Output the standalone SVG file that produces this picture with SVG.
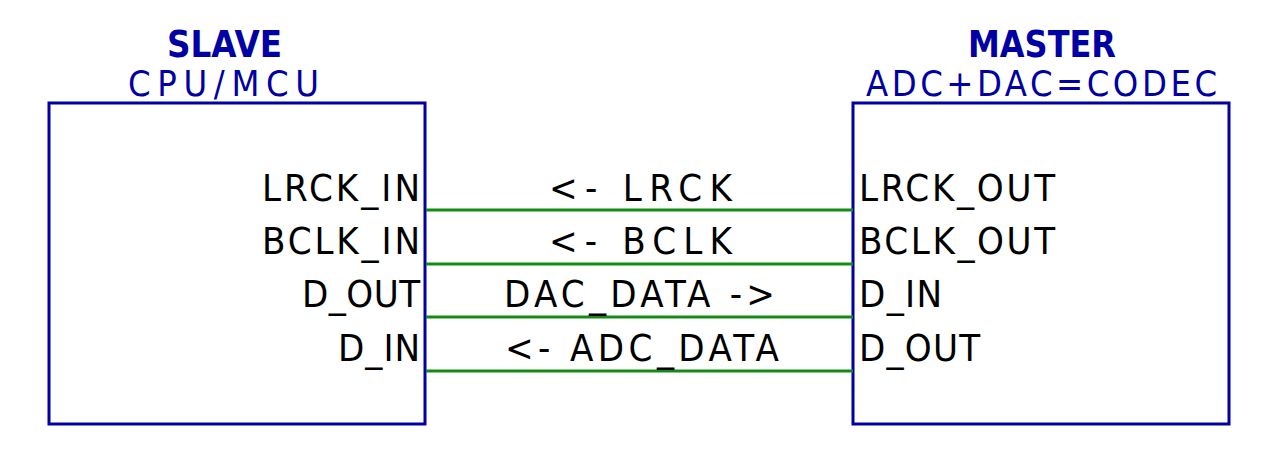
<svg xmlns="http://www.w3.org/2000/svg" width="1279" height="475" viewBox="0 0 1279 475">
<style>
.box{fill:none;stroke:#0000a4;stroke-width:3}
.wire{stroke:#148c14;stroke-width:3;fill:none}
.lbl{font-family:"DejaVu Sans Condensed","DejaVu Sans",sans-serif;font-size:38px;fill:#000}
.title{font-family:"DejaVu Sans",sans-serif;font-size:38px;font-weight:bold;fill:#0000a4}
.sub{font-family:"DejaVu Sans Condensed","DejaVu Sans",sans-serif;font-size:36px;fill:#0000a4}
</style>
<rect width="1279" height="475" fill="#fff"/>
<g id="slave">
<rect class="box" x="49" y="103" width="376" height="321"/>
<text class="title" x="167" y="57" textLength="115" lengthAdjust="spacingAndGlyphs">SLAVE</text>
<text class="sub" x="128" y="96" textLength="191" lengthAdjust="spacing">CPU/MCU</text>
<text class="lbl" x="262" y="201" textLength="158" lengthAdjust="spacing">LRCK_IN</text>
<text class="lbl" x="262" y="254" textLength="158" lengthAdjust="spacing">BCLK_IN</text>
<text class="lbl" x="302" y="307" textLength="118" lengthAdjust="spacing">D_OUT</text>
<text class="lbl" x="338" y="361" textLength="82" lengthAdjust="spacing">D_IN</text>
</g>
<g id="master">
<rect class="box" x="853" y="103" width="376" height="321"/>
<text class="title" x="968" y="57" textLength="148" lengthAdjust="spacingAndGlyphs">MASTER</text>
<text class="sub" x="866" y="96" textLength="351" lengthAdjust="spacing">ADC+DAC=CODEC</text>
<text class="lbl" x="859" y="201" textLength="196" lengthAdjust="spacing">LRCK_OUT</text>
<text class="lbl" x="859" y="254" textLength="196" lengthAdjust="spacing">BCLK_OUT</text>
<text class="lbl" x="859" y="307" textLength="83" lengthAdjust="spacing">D_IN</text>
<text class="lbl" x="859" y="361" textLength="121" lengthAdjust="spacing">D_OUT</text>
</g>
<g id="connectors">
<line class="wire" x1="426" y1="210" x2="853" y2="210"/>
<line class="wire" x1="426" y1="264" x2="853" y2="264"/>
<line class="wire" x1="426" y1="317" x2="853" y2="317"/>
<line class="wire" x1="426" y1="371" x2="853" y2="371"/>
<text class="lbl" x="549" y="201" textLength="183" lengthAdjust="spacing">&lt;- LRCK</text>
<text class="lbl" x="549" y="254" textLength="183" lengthAdjust="spacing">&lt;- BCLK</text>
<text class="lbl" x="504" y="307" textLength="271" lengthAdjust="spacing">DAC_DATA -&gt;</text>
<text class="lbl" x="505" y="361" textLength="274" lengthAdjust="spacing">&lt;- ADC_DATA</text>
</g>
</svg>
